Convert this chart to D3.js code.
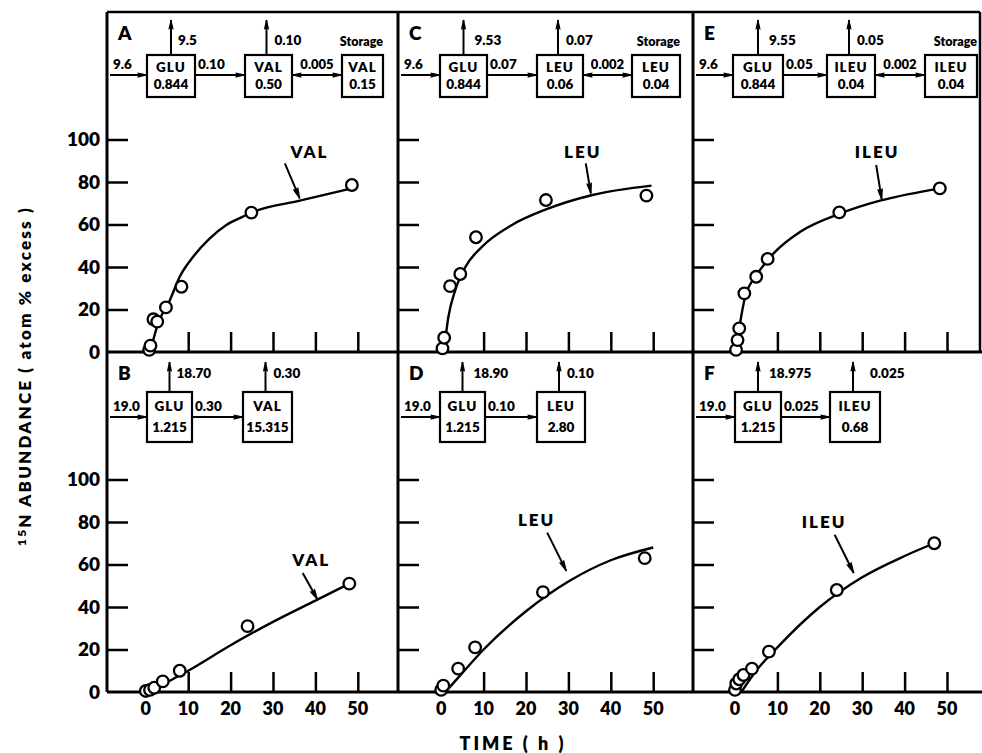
<!DOCTYPE html>
<html><head><meta charset="utf-8">
<script src="https://cdn.jsdelivr.net/npm/d3@7"></script>
<style>body{margin:0;background:#fff}svg{display:block}</style>
</head><body><svg id="c" width="982" height="753"></svg>
<script>
// ---------------- DATA ----------------
const yTickValues = [0, 20, 40, 60, 80, 100];
const xTickLabels = [0, 10, 20, 30, 40, 50];
const xTickMarks = [10, 20, 30, 40, 50];
const panelLetters = ["A", "B", "C", "D", "E", "F"];
const curveLabels = ["VAL", "VAL", "LEU", "LEU", "ILEU", "ILEU"];

// observed points (time h, 15N atom % excess)
const timeA = [0.8, 1.1, 1.8, 2.7, 4.75, 8.4, 24.9, 48.6];
const valA  = [1, 3, 15.4, 14.3, 21, 30.7, 65.6, 78.6];
const timeB = [0, 1, 2, 4, 8, 24, 48];
const valB  = [0.5, 1, 2, 5, 10, 31, 51];
const timeC = [0.3, 0.7, 2.1, 4.5, 8.2, 24.7, 48.4];
const valC  = [1.7, 6.7, 31, 36.7, 54, 71.5, 73.6];
const timeD = [0, 0.5, 4, 8, 24, 48];
const valD  = [1, 3, 11, 21, 47, 63];
const timeE = [0.25, 0.6, 1.0, 2.2, 5.0, 7.7, 24.6, 48.3];
const valE  = [1, 5.6, 11.1, 27.6, 35.4, 43.8, 65.7, 77];
const timeF = [0, 0.3, 1, 2, 4, 8, 24, 47];
const valF  = [1, 4, 6, 8, 11, 19, 48, 70];

// fitted model curves
const curveTimeA = [1, 2.9, 5.7, 8, 11.2, 15.1, 19, 22.9, 24.9, 36.3, 48.6];
const curveValA  = [0, 13.5, 24.5, 35.4, 44.9, 53.5, 59.8, 63.7, 65.6, 71.2, 77];
const curveTimeB = [1.5, 5, 10, 20, 30, 40, 48];
const curveValB  = [0, 4.5, 10, 22, 33, 43, 51];
const curveTimeC = [0.6, 0.9, 1.7, 3.3, 5.7, 9.6, 16.7, 24.7, 35.7, 49.6];
const curveValC  = [3, 5.6, 16.6, 29, 40, 49.5, 59.8, 67.1, 73.9, 78.3];
const curveTimeD = [1, 5, 10, 20, 30, 40, 50];
const curveValD  = [0, 9, 20, 38, 52, 62, 68];
const curveTimeE = [0.3, 1.2, 2.4, 5.1, 9.1, 15.4, 24.6, 34.2, 46, 48.3];
const curveValE  = [1, 13.5, 26, 36.2, 46.4, 56.6, 65, 71.2, 76.2, 77];
const curveTimeF = [1.5, 5, 10, 20, 30, 40, 47];
const curveValF  = [0, 10, 21, 40, 54, 64, 70];

// compartment diagrams: box names, pool sizes, fluxes [in, out1, transfer, out2, exchange]
const boxNamesA = ["GLU", "VAL", "VAL"];   const poolsA = ["0.844", "0.50", "0.15"];
const fluxA = ["9.6", "9.5", "0.10", "0.10", "0.005"];
const boxNamesB = ["GLU", "VAL"];          const poolsB = ["1.215", "15.315"];
const fluxB = ["19.0", "18.70", "0.30", "0.30"];
const boxNamesC = ["GLU", "LEU", "LEU"];   const poolsC = ["0.844", "0.06", "0.04"];
const fluxC = ["9.6", "9.53", "0.07", "0.07", "0.002"];
const boxNamesD = ["GLU", "LEU"];          const poolsD = ["1.215", "2.80"];
const fluxD = ["19.0", "18.90", "0.10", "0.10"];
const boxNamesE = ["GLU", "ILEU", "ILEU"]; const poolsE = ["0.844", "0.04", "0.04"];
const fluxE = ["9.6", "9.55", "0.05", "0.05", "0.002"];
const boxNamesF = ["GLU", "ILEU"];         const poolsF = ["1.215", "0.68"];
const fluxF = ["19.0", "18.975", "0.025", "0.025"];

// annotation arrows [tailT, tailV, tipT, tipV] and label position [t, v]
const arrowA = [32.8, 88.8, 36.3, 72.3]; const labelPosA = [38.6, 94];
const arrowB = [37, 56, 40.5, 43.5];     const labelPosB = [39, 62];
const arrowC = [34.1, 88.8, 35.3, 74.6]; const labelPosC = [33.4, 94];
const arrowD = [25, 75, 29.5, 57];       const labelPosD = [22.5, 81];
const arrowE = [33.3, 88, 34.6, 71.8];   const labelPosE = [33.5, 94];
const arrowF = [23.5, 74, 28, 56];       const labelPosF = [21, 80];

// ---------------- LAYOUT ----------------
const colAxis = [107, 398, 693];
const colRight = [398, 692, 980];
const colZero = [145.8, 441.2, 735];
const pxPerHour = 4.24;
const rowTop = [12, 352];
const rowAxis = [352, 692];
const pxPerUnit = 2.125;
const FONT = "Lato, 'Liberation Sans', Arial, sans-serif";
const W = 800;

const panels = [
  {col:0,row:0,letter:panelLetters[0],label:curveLabels[0],t:timeA,v:valA,ct:curveTimeA,cv:curveValA,names:boxNamesA,pools:poolsA,flux:fluxA,arrow:arrowA,lp:labelPosA,
   bx:[40,138,235],bw:[48,47,41]},
  {col:0,row:1,letter:panelLetters[1],label:curveLabels[1],t:timeB,v:valB,ct:curveTimeB,cv:curveValB,names:boxNamesB,pools:poolsB,flux:fluxB,arrow:arrowB,lp:labelPosB,
   bx:[40,136],bw:[45,49]},
  {col:1,row:0,letter:panelLetters[2],label:curveLabels[2],t:timeC,v:valC,ct:curveTimeC,cv:curveValC,names:boxNamesC,pools:poolsC,flux:fluxC,arrow:arrowC,lp:labelPosC,
   bx:[42,139,234],bw:[47,46,48]},
  {col:1,row:1,letter:panelLetters[3],label:curveLabels[3],t:timeD,v:valD,ct:curveTimeD,cv:curveValD,names:boxNamesD,pools:poolsD,flux:fluxD,arrow:arrowD,lp:labelPosD,
   bx:[42,139],bw:[45,48]},
  {col:2,row:0,letter:panelLetters[4],label:curveLabels[4],t:timeE,v:valE,ct:curveTimeE,cv:curveValE,names:boxNamesE,pools:poolsE,flux:fluxE,arrow:arrowE,lp:labelPosE,
   bx:[40,134,232],bw:[50,48,52]},
  {col:2,row:1,letter:panelLetters[5],label:curveLabels[5],t:timeF,v:valF,ct:curveTimeF,cv:curveValF,names:boxNamesF,pools:poolsF,flux:fluxF,arrow:arrowF,lp:labelPosF,
   bx:[42,137],bw:[46,50]}
];

const svg = d3.select("#c");
const defs = svg.append("defs");
defs.append("marker").attr("id","ah").attr("viewBox","0 0 12 8").attr("refX",11).attr("refY",4)
  .attr("markerWidth",11).attr("markerHeight",7).attr("markerUnits","userSpaceOnUse").attr("orient","auto-start-reverse")
  .append("path").attr("d","M0,1 Q6,2 12,4 Q6,6 0,7 Q2,4 0,1Z").attr("fill","#000");
defs.append("marker").attr("id","ahBig").attr("viewBox","0 0 12 8").attr("refX",11).attr("refY",4)
  .attr("markerWidth",13).attr("markerHeight",8).attr("markerUnits","userSpaceOnUse").attr("orient","auto")
  .append("path").attr("d","M0,1 Q6,2 12,4 Q6,6 0,7 Q2,4 0,1Z").attr("fill","#000");

// ---------------- FRAME ----------------
const frame = svg.append("g").attr("stroke","#000").attr("fill","none");
frame.append("line").attr("x1",colAxis[0]).attr("x2",colRight[2]).attr("y1",rowTop[0]).attr("y2",rowTop[0]).attr("stroke-width",2.5);
frame.append("line").attr("x1",colAxis[0]).attr("x2",colRight[2]+2).attr("y1",rowAxis[0]).attr("y2",rowAxis[0]).attr("stroke-width",3);
frame.append("line").attr("x1",colAxis[0]).attr("x2",982).attr("y1",rowAxis[1]).attr("y2",rowAxis[1]).attr("stroke-width",3);
[colAxis[0], colAxis[1], colAxis[2]].forEach(x=>{
  frame.append("line").attr("x1",x).attr("x2",x).attr("y1",rowTop[0]).attr("y2",rowAxis[1]).attr("stroke-width",3);
});
frame.append("line").attr("x1",colRight[2]).attr("x2",colRight[2]).attr("y1",rowTop[0]).attr("y2",rowAxis[0]).attr("stroke-width",2.5);

// y tick labels (left column only)
rowAxis.forEach((ya,ri)=>{
  const y = d3.scaleLinear().domain([0,100]).range([ya, ya-100*pxPerUnit]);
  svg.append("g").selectAll("text").data(yTickValues).join("text")
    .attr("x",100).attr("y",d=>y(d)).attr("dy","0.36em").attr("text-anchor","end")
    .attr("font-family",FONT).attr("font-weight",W).attr("font-size",19).text(d=>d);
});

// ---------------- PANELS ----------------
panels.forEach(p=>{
  const x0 = colAxis[p.col], top = rowTop[p.row], ya = rowAxis[p.row];
  const x = d3.scaleLinear().domain([0,50]).range([colZero[p.col], colZero[p.col]+50*pxPerHour]);
  const y = d3.scaleLinear().domain([0,100]).range([ya, ya-100*pxPerUnit]);
  const g = svg.append("g");

  const yAxis = d3.axisRight(y).tickValues(yTickValues.filter(d=>d>0)).tickSize(21).tickFormat("");
  g.append("g").attr("transform",`translate(${x0},0)`).call(yAxis)
    .call(s=>s.select(".domain").remove())
    .call(s=>s.selectAll("line").attr("stroke-width",2.5));
  const xAxis = d3.axisTop(x).tickValues(xTickMarks).tickSize(20).tickFormat("");
  g.append("g").attr("transform",`translate(0,${ya})`).call(xAxis)
    .call(s=>s.select(".domain").remove())
    .call(s=>s.selectAll("line").attr("stroke-width",2.5));
  if (p.row===1) {
    g.append("g").selectAll("text").data(xTickLabels).join("text")
      .attr("x",d=>x(d)).attr("y",ya+23).attr("text-anchor","middle")
      .attr("font-family",FONT).attr("font-weight",W).attr("font-size",18).text(d=>d);
  }

  const line = d3.line().x(d=>x(d[0])).y(d=>y(d[1])).curve(d3.curveMonotoneX);
  g.append("path").datum(p.ct.map((t,i)=>[t,p.cv[i]])).attr("d",line)
    .attr("fill","none").attr("stroke","#000").attr("stroke-width",2.4);
  g.append("g").selectAll("circle").data(p.t.map((t,i)=>[t,p.v[i]])).join("circle")
    .attr("cx",d=>x(d[0])).attr("cy",d=>y(d[1])).attr("r",5.8)
    .attr("fill","#fff").attr("stroke","#000").attr("stroke-width",2.3);
  g.append("line").attr("x1",x(p.arrow[0])).attr("y1",y(p.arrow[1])).attr("x2",x(p.arrow[2])).attr("y2",y(p.arrow[3]))
    .attr("stroke","#000").attr("stroke-width",2).attr("marker-end","url(#ahBig)");
  g.append("text").attr("x",x(p.lp[0])).attr("y",y(p.lp[1])).attr("dy","0.36em").attr("text-anchor","middle")
    .attr("font-family",FONT).attr("font-weight",W).attr("font-size",17).attr("letter-spacing",2).text(p.label);

  g.append("text").attr("x",x0+11).attr("y",top+28).attr("font-family",FONT)
    .attr("font-weight",W).attr("font-size",19).text(p.letter);

  const top3 = p.row===0;
  const bTop = top + (top3?43:40), bH = top3?42:50;
  const lineY = top + (top3?63:65);
  const upTip = top + (top3?8:10);
  const upLabY = top + (top3?33:26);
  const flowLabY = lineY - 6;
  const tf = {"font-family":FONT,"font-weight":W,"font-size":13.5};
  const T = (sel)=>{Object.entries(tf).forEach(([k,v])=>sel.attr(k,v)); return sel;};
  const dg = g.append("g");
  p.names.forEach((nm,i)=>{
    const bx = x0 + p.bx[i], bw = p.bw[i];
    dg.append("rect").attr("x",bx).attr("y",bTop).attr("width",bw).attr("height",bH)
      .attr("fill","#fff").attr("stroke","#000").attr("stroke-width",2.2);
    T(dg.append("text")).attr("x",bx+bw/2).attr("y",bTop+(top3?17:19)).attr("text-anchor","middle").attr("letter-spacing",1).text(nm);
    T(dg.append("text")).attr("x",bx+bw/2).attr("y",bTop+(top3?34:40)).attr("text-anchor","middle").text(p.pools[i]);
  });
  const b = i => ({l:x0+p.bx[i], r:x0+p.bx[i]+p.bw[i], c:x0+p.bx[i]+p.bw[i]/2});
  dg.append("line").attr("x1",x0+3).attr("x2",b(0).l).attr("y1",lineY).attr("y2",lineY)
    .attr("stroke","#000").attr("stroke-width",2).attr("marker-end","url(#ah)");
  T(dg.append("text")).attr("x",x0+6).attr("y",flowLabY).text(p.flux[0]);
  dg.append("line").attr("x1",b(0).c).attr("x2",b(0).c).attr("y1",bTop).attr("y2",upTip)
    .attr("stroke","#000").attr("stroke-width",2).attr("marker-end","url(#ah)");
  T(dg.append("text")).attr("x",b(0).c+(p.col===0?7:11)).attr("y",upLabY).text(p.flux[1]);
  dg.append("line").attr("x1",b(0).r).attr("x2",b(1).l).attr("y1",lineY).attr("y2",lineY)
    .attr("stroke","#000").attr("stroke-width",2).attr("marker-end","url(#ah)");
  T(dg.append("text")).attr("x",b(0).r+3).attr("y",flowLabY).text(p.flux[2]);
  dg.append("line").attr("x1",b(1).c-2).attr("x2",b(1).c-2).attr("y1",bTop).attr("y2",upTip)
    .attr("stroke","#000").attr("stroke-width",2).attr("marker-end","url(#ah)");
  T(dg.append("text")).attr("x",b(1).c+(p.row===1&&p.col===2?15:6)).attr("y",upLabY).text(p.flux[3]);
  if (p.names.length>2) {
    dg.append("line").attr("x1",b(1).r).attr("x2",b(2).l).attr("y1",lineY).attr("y2",lineY)
      .attr("stroke","#000").attr("stroke-width",2).attr("marker-end","url(#ah)").attr("marker-start","url(#ah)");
    T(dg.append("text")).attr("x",(b(1).r+b(2).l)/2).attr("y",flowLabY).attr("text-anchor","middle").attr("font-size",13).text(p.flux[4]);
    T(dg.append("text")).attr("x",b(2).r).attr("y",upLabY+1).attr("text-anchor","end").attr("font-size",12.5).text("Storage");
  }
});

// ---------------- AXIS TITLES ----------------
const yt = svg.append("text").attr("transform","translate(31,376) rotate(-90)").attr("text-anchor","middle")
  .attr("font-family",FONT).attr("font-weight",W).attr("font-size",17).attr("letter-spacing",2.2);
yt.append("tspan").attr("font-size",12).attr("baseline-shift","40%").text("15");
yt.append("tspan").text("N  ABUNDANCE  ( atom % excess )");

svg.append("text").attr("x",513).attr("y",750).attr("text-anchor","middle")
  .attr("font-family",FONT).attr("font-weight",W).attr("font-size",18).attr("letter-spacing",3).text("TIME ( h )");
</script></body></html>
